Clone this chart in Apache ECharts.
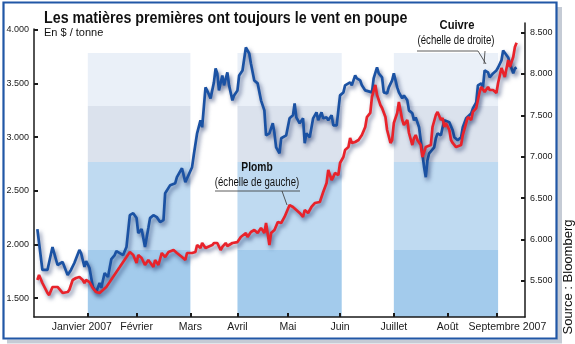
<!DOCTYPE html>
<html>
<head>
<meta charset="utf-8">
<script src="https://cdn.jsdelivr.net/npm/echarts@6/dist/echarts.min.js"></script>
<style>
html,body{margin:0;padding:0;background:#fff;}
#c{width:575px;height:344px;}
</style>
</head>
<body>
<div id="c"></div>
<script>
// ---- Data ----
const monthLabels = ['Janvier 2007','Février','Mars','Avril','Mai','Juin','Juillet','Août','Septembre 2007'];
const monthDays = [0, 29, 61, 89, 119, 150, 182, 214, 243]; // day offsets from 1 Jan 2007
const leftTicks = [1500, 2000, 2500, 3000, 3500, 4000];
const rightTicks = [5500, 6000, 6500, 7000, 7500, 8000, 8500];
const bandPeriods = [[0, 61], [89, 151], [182, 244]];

// Cuivre (échelle de droite), $ / tonne
const cuivreJours = [-30,-27,-24,-21,-20,-18,-15,-12,-10,-8,-5,-4,-2,-1,1,3,5,7,8,10,12,14,16,17,19,21,23,25,27,29,30,32,34,36,37,39,41,43,45,46,49,52,53,56,58,59,62,63,65,67,68,70,71,73,75,76,77,78,80,81,83,84,86,87,89,90,92,94,96,97,99,101,103,105,106,108,110,111,112,114,115,118,120,122,123,124,126,128,129,130,132,134,136,137,139,140,142,143,145,146,148,149,150,152,153,156,157,159,160,162,163,165,166,169,170,172,173,175,176,178,179,181,182,184,185,187,188,190,191,193,194,195,197,198,200,201,202,203,204,206,207,208,210,211,212,213,215,217,218,219,220,222,223,225,226,228,229,230,231,232,234,235,236,238,239,241,243,244,246,247,248,250,251,253,254,255];
const cuivreValeurs = [6127,5633,5633,5910,5910,5693,5729,5572,5633,5717,5874,5837,5669,5741,5657,5428,5367,5476,5416,5596,5548,5765,5813,5861,5837,5813,5910,6295,6319,6259,6078,6127,5910,6139,6259,6295,6271,6211,6235,6560,6657,6681,6753,6861,6693,6681,6874,7018,7283,7440,7356,7837,7801,7705,7898,8066,8006,7801,7982,7862,8018,7862,7681,7741,7801,7982,8042,8319,8247,8127,7922,7886,7681,7560,7259,7283,7404,7283,7114,7042,7223,7259,7464,7500,7645,7476,7404,7464,7163,7283,7235,7464,7536,7440,7536,7464,7476,7440,7500,7380,7380,7560,7741,7777,7862,7898,7862,7982,7946,7922,7862,7801,7825,7777,7946,8078,8006,7958,7777,7765,7837,7922,8006,7837,7777,7705,7741,7681,7560,7524,7440,7476,7356,7199,6873,6753,6958,7042,7018,7114,7223,7283,7259,7356,7440,7464,7416,7319,7235,7259,7199,7235,7356,7464,7476,7524,7584,7560,7657,7862,7886,7837,8042,8018,7958,8006,8042,8078,8163,8283,8259,8199,8127,8006,8066,8078];

// Plomb (échelle de gauche), $ / tonne
const plombJours = [-30,-29,-27,-24,-23,-21,-18,-17,-15,-12,-11,-9,-7,-5,-3,-2,-1,1,3,5,7,9,11,13,15,17,19,21,23,25,27,29,30,32,34,36,37,39,40,42,44,46,48,51,53,56,58,59,62,64,65,67,68,70,71,74,75,77,79,80,82,83,86,87,89,91,92,94,95,97,99,101,103,105,106,108,109,111,113,115,117,118,120,122,124,126,128,129,131,133,135,138,140,141,142,143,145,146,147,149,150,152,153,155,156,157,159,161,163,165,166,168,169,171,172,174,175,177,178,180,181,182,184,185,187,188,190,191,193,194,195,196,198,199,201,202,204,205,207,208,210,211,212,213,215,216,217,219,220,222,223,225,226,228,229,230,231,233,234,235,236,238,239,241,243,244,246,247,248,250,251,253,254,255];
const plombValeurs = [1668,1715,1640,1547,1528,1603,1603,1593,1547,1556,1575,1668,1687,1696,1668,1640,1668,1649,1593,1556,1547,1575,1603,1649,1696,1743,1789,1836,1882,1929,1901,1827,1901,1873,1808,1855,1873,1789,1855,1808,1920,1882,1929,1948,1920,1882,1855,1920,1920,1929,1994,1966,2013,1966,1976,1994,2013,2013,1948,1976,2013,1985,2013,2013,2022,2069,2078,2106,2069,2116,2134,2106,2153,2106,2200,1994,2106,2134,2209,2200,2256,2293,2367,2349,2321,2293,2256,2321,2293,2349,2386,2396,2489,2479,2573,2694,2601,2629,2666,2647,2759,2815,2881,2908,2992,2946,2955,2974,3020,3095,3188,3226,3375,3487,3394,3300,3272,3188,3067,2946,2974,3132,3226,3328,3160,3114,3160,3039,2927,2992,3020,2974,2927,2815,2908,2899,2927,3095,3207,3235,3160,3179,3095,3132,3067,2974,2946,2908,2899,2927,3020,3132,3188,3160,3235,3226,3272,3422,3468,3459,3422,3468,3440,3440,3412,3506,3645,3627,3561,3720,3655,3748,3841,3880];

// ---- Styling ----
const SANS = '"Liberation Sans", Arial, sans-serif';
const INK = '#1a1a1a';
const fmtNum = v => String(v).replace(/\B(?=(\d{3})+(?!\d))/g, '.');

const X_MIN = -32, X_MAX = 260;
const L_MIN = 1323, L_MAX = 4009;
const R_MIN = 5065, R_MAX = 8615;

// shaded quarter bands: layers as left-axis value ranges
const layers = [
  [3291, 3785, '#eaf0f8'],
  [2769, 3291, '#dbe2ed'],
  [1948, 2769, '#bfdaf1'],
  [L_MIN, 1948, '#a3cbec']
];
const areaData = [];
bandPeriods.forEach(p => {
  layers.forEach(l => {
    areaData.push([{xAxis: p[0], yAxis: l[1], itemStyle: {color: l[2]}}, {xAxis: p[1], yAxis: l[0]}]);
  });
});

const pair = (xs, ys) => xs.map((x, i) => [x, ys[i]]);

const axisCommon = {
  z: 5,
  axisLine: {show: true, onZero: false, lineStyle: {color: INK, width: 1.5}},
  splitLine: {show: false}
};
const XFONT = 10.5;

const option = {
  animation: false,
  backgroundColor: '#fff',
  grid: [
    {left: 34, right: 50, top: 29, bottom: 27},
    {left: 34, right: 50, top: 23, bottom: 27}
  ],
  xAxis: [
    Object.assign({}, axisCommon, {
      type: 'value', gridIndex: 0, min: X_MIN, max: X_MAX,
      axisTick: {show: true, inside: true, length: 4, customValues: monthDays, lineStyle: {color: INK, width: 2}},
      axisLabel: {
        customValues: monthDays, margin: 5, color: INK, fontFamily: SANS, fontSize: XFONT,
        formatter: function (v) {
          const i = monthDays.indexOf(v);
          const t = monthLabels[i];
          if (i === 0) return '{a|' + t + '}';
          if (i === monthLabels.length - 1) return '{b|' + t + '}';
          return t;
        },
        rich: {
          a: {padding: [0, 12, 0, 0], fontFamily: SANS, fontSize: XFONT, color: INK},
          b: {padding: [0, 0, 0, 22], fontFamily: SANS, fontSize: XFONT, color: INK}
        }
      }
    }),
    {type: 'value', gridIndex: 1, min: X_MIN, max: X_MAX, show: false}
  ],
  yAxis: [
    Object.assign({}, axisCommon, {
      type: 'value', gridIndex: 0, position: 'left', min: L_MIN, max: L_MAX,
      axisTick: {show: true, inside: true, length: 4, customValues: leftTicks, lineStyle: {color: INK, width: 2}},
      axisLabel: {customValues: leftTicks, margin: 5, color: INK, fontFamily: SANS, fontSize: 9, formatter: fmtNum}
    }),
    Object.assign({}, axisCommon, {
      type: 'value', gridIndex: 1, position: 'right', min: R_MIN, max: R_MAX,
      axisTick: {show: true, inside: true, length: 4, customValues: rightTicks, lineStyle: {color: INK, width: 2}},
      axisLabel: {customValues: rightTicks, margin: 5, color: INK, fontFamily: SANS, fontSize: 9, formatter: fmtNum}
    })
  ],
  series: [
    {
      name: 'Cuivre', type: 'line', xAxisIndex: 1, yAxisIndex: 1,
      data: pair(cuivreJours, cuivreValeurs), showSymbol: false, symbol: 'none',
      lineStyle: {color: '#1b52a3', width: 2.7, shadowColor: 'rgba(25,45,100,0.6)', shadowBlur: 4, shadowOffsetX: 2, shadowOffsetY: 3}
    },
    {
      name: 'Plomb', type: 'line', xAxisIndex: 0, yAxisIndex: 0,
      data: pair(plombJours, plombValeurs), showSymbol: false, symbol: 'none',
      lineStyle: {color: '#e8232b', width: 2.7, shadowColor: 'rgba(25,45,100,0.6)', shadowBlur: 4, shadowOffsetX: 2, shadowOffsetY: 3},
      markArea: {silent: true, data: areaData, label: {show: false}}
    }
  ],
  graphic: [
    {type: 'rect', z: 50, shape: {x: 557, y: 7, width: 5, height: 336}, style: {fill: '#c5cbd5'}},
    {type: 'rect', z: 50, shape: {x: 7, y: 339.5, width: 555, height: 4}, style: {fill: '#c5cbd5'}},
    {type: 'rect', z: 51, shape: {x: 3.5, y: 2.5, width: 553, height: 336}, style: {fill: null, stroke: '#2157a6', lineWidth: 2.2}},
    {type: 'text', z: 52, x: 44, y: 18, scaleX: 0.84, style: {text: 'Les matières premières ont toujours le vent en poupe', font: 'bold 17px ' + SANS, fill: '#111', align: 'left', verticalAlign: 'middle'}},
    {type: 'text', z: 52, x: 44, y: 33, style: {text: 'En $ / tonne', font: '11px ' + SANS, fill: '#111', align: 'left', verticalAlign: 'middle'}},
    {type: 'text', z: 52, x: 257, y: 168, scaleX: 0.82, style: {text: 'Plomb', font: 'bold 12.5px ' + SANS, fill: '#111', align: 'center', verticalAlign: 'middle'}},
    {type: 'text', z: 52, x: 257, y: 183, scaleX: 0.8, style: {text: '(échelle de gauche)', font: '12px ' + SANS, fill: '#111', align: 'center', verticalAlign: 'middle'}},
    {type: 'polyline', z: 52, shape: {points: [[215, 191], [300, 191]]}, style: {stroke: '#333', lineWidth: 0.8, fill: null}},
    {type: 'polyline', z: 52, shape: {points: [[282, 191], [287, 205]]}, style: {stroke: '#333', lineWidth: 0.8, fill: null}},
    {type: 'text', z: 52, x: 457, y: 25, scaleX: 0.83, style: {text: 'Cuivre', font: 'bold 13.5px ' + SANS, fill: '#111', align: 'center', verticalAlign: 'middle'}},
    {type: 'text', z: 52, x: 456, y: 41, scaleX: 0.8, style: {text: '(échelle de droite)', font: '12px ' + SANS, fill: '#111', align: 'center', verticalAlign: 'middle'}},
    {type: 'polyline', z: 52, shape: {points: [[417, 51], [478, 51], [486, 64]]}, style: {stroke: '#333', lineWidth: 0.8, fill: null}},
    {type: 'polyline', z: 52, shape: {points: [[485, 51], [484, 64]]}, style: {stroke: '#333', lineWidth: 0.8, fill: null}},
    {type: 'text', z: 52, x: 568, y: 277, rotation: Math.PI / 2, style: {text: 'Source : Bloomberg', font: '13px ' + SANS, fill: '#111', align: 'center', verticalAlign: 'middle'}}
  ]
};

const chart = echarts.init(document.getElementById('c'), null, {renderer: 'canvas'});
chart.setOption(option);
</script>
</body>
</html>
